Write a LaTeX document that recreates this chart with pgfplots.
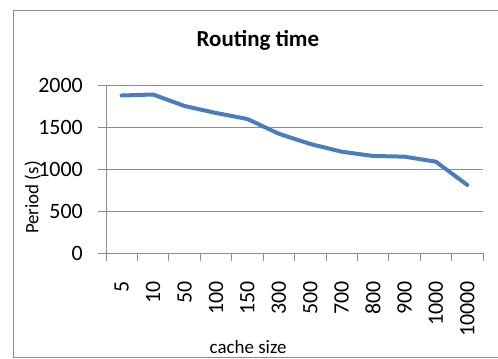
\documentclass[border=0pt]{standalone}
\usepackage{fontspec}
\setmainfont{Carlito}
\usepackage{pgfplots}
\pgfplotsset{compat=1.18}
\definecolor{xlblue}{HTML}{4A7EBB}
\definecolor{gridgray}{HTML}{8C8C8C}
\begin{document}
\begin{tikzpicture}[x=1bp,y=1bp]
\useasboundingbox (0,0) rectangle (498,358);
\draw[gridgray,line width=0.8bp] (13,1) -- (13,348) -- (500,348);
\draw[gridgray,line width=0.8bp] (13,1) -- (500,1);
\begin{axis}[
  at={(106bp,105bp)}, anchor=south west,
  scale only axis, width=377bp, height=168bp,
  xmin=-0.5, xmax=11.5, ymin=0, ymax=2000,
  axis x line*=bottom, axis y line*=left,
  axis line style={gridgray, line width=0.8bp},
  every outer x axis line/.append style={-}, every outer y axis line/.append style={-},
  xtick={0,...,11},
  xticklabels={5,10,50,100,150,300,500,700,800,900,1000,10000},
  major x tick style={draw=none},
  minor xtick={-0.5,0.5,...,11.5},
  minor tick length=8bp,
  minor x tick style={gridgray, line width=0.8bp},
  tick align=outside,
  ytick={0,500,1000,1500,2000},
  major tick length=8bp,
  ytick style={gridgray, line width=0.8bp},
  ymajorgrids, grid style={gridgray, line width=0.8bp},
  /pgf/number format/assume math mode=true,
  /pgf/number format/1000 sep={},
  tick label style={font=\fontsize{22}{26}\selectfont, text=black},
  xticklabel style={rotate=90, anchor=east, inner sep=0pt, xshift=-20bp},
  yticklabel style={anchor=east, inner sep=0pt, xshift=-15bp},
  title={Routing time},
  title style={font=\bfseries\fontsize{23}{27}\selectfont, at={(axis description cs:0.403,1.23)}, anchor=center},
  xlabel={cache size},
  xlabel style={font=\fontsize{19}{22}\selectfont, at={(axis description cs:0.377,-0.56)}, anchor=center},
  ylabel={Period (s)},
  ylabel style={font=\fontsize{19}{22}\selectfont, at={(axis description cs:-0.194,0.33)}, anchor=center},
  clip=false,
]
\addplot[xlblue, line width=4bp, line join=round, line cap=round] coordinates {
(0,1875) (1,1887) (2,1750) (3,1667) (4,1595) (5,1420) (6,1298) (7,1206) (8,1155) (9,1147) (10,1087) (11,810)
};
\end{axis}
\end{tikzpicture}
\end{document}
